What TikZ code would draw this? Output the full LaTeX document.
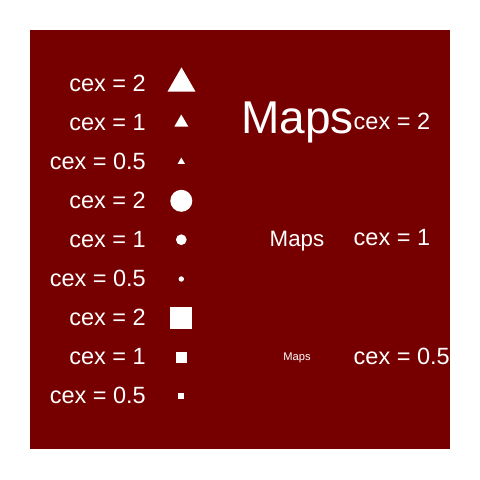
\documentclass[tikz,border=0pt]{standalone}
\usepackage{fontspec}
\setmainfont{Liberation Sans}
\usetikzlibrary{shapes.geometric}
\definecolor{bg}{RGB}{118,0,0}
\begin{document}
\begin{tikzpicture}[x=1pt,y=-1pt,
  lab/.style={text=white,font=\fontsize{23.5}{24}\selectfont,inner sep=0pt},
  maps/.style={text=white,font=\fontsize{#1}{#1}\selectfont,inner sep=0pt},
  tri/.style={regular polygon,regular polygon sides=3,fill=white,inner sep=0pt,outer sep=0pt,minimum size=#1},
  dot/.style={circle,fill=white,inner sep=0pt,outer sep=0pt,minimum size=#1},
  sq/.style={rectangle,fill=white,inner sep=0pt,outer sep=0pt,minimum size=#1}]
\useasboundingbox (0,0) rectangle (480,480);
\fill[white] (0,0) rectangle (480,480);
\fill[bg] (29.5,29.5) rectangle (450,449);
% left labels
\node[lab,anchor=base east] (l1) at (146,91) {cex = 2};
\node[lab,anchor=base east] (l2) at (146,130.1) {cex = 1};
\node[lab,anchor=base east] (l3) at (146,169.2) {cex = 0.5};
\node[lab,anchor=base east] (l4) at (146,208.3) {cex = 2};
\node[lab,anchor=base east] (l5) at (146,247.4) {cex = 1};
\node[lab,anchor=base east] (l6) at (146,286.5) {cex = 0.5};
\node[lab,anchor=base east] (l7) at (146,325.6) {cex = 2};
\node[lab,anchor=base east] (l8) at (146,364.7) {cex = 1};
\node[lab,anchor=base east] (l9) at (146,403.8) {cex = 0.5};
% symbols
\node[tri=32.3] (t1) at (181.5,83.5) {};
\node[tri=16.2] (t2) at (181.3,122.6) {};
\node[tri=8.3] (t3) at (181.3,161.7) {};
\node[dot=22] (c1) at (181.3,200.8) {};
\node[dot=10.7] (c2) at (181.3,239.7) {};
\node[dot=5.4] (c3) at (181.3,279) {};
\node[sq=22] (s1) at (181.3,317.8) {};
\node[sq=11] (s2) at (181.3,357.2) {};
\node[sq=5.7] (s3) at (181.2,396.3) {};
% Maps
\node[maps=46,anchor=base] (m1) at (297.5,133.3) {Maps};
\node[maps=22.3,anchor=base] (m2) at (297,246) {Maps};
\node[maps=11.15,anchor=base] (m3) at (297,360) {Maps};
% right labels
\node[lab,anchor=base west] (r1) at (353.5,129) {cex = 2};
\node[lab,anchor=base west] (r2) at (353.5,245.7) {cex = 1};
\node[lab,anchor=base west] (r3) at (353.5,364) {cex = 0.5};
\end{tikzpicture}
\end{document}
